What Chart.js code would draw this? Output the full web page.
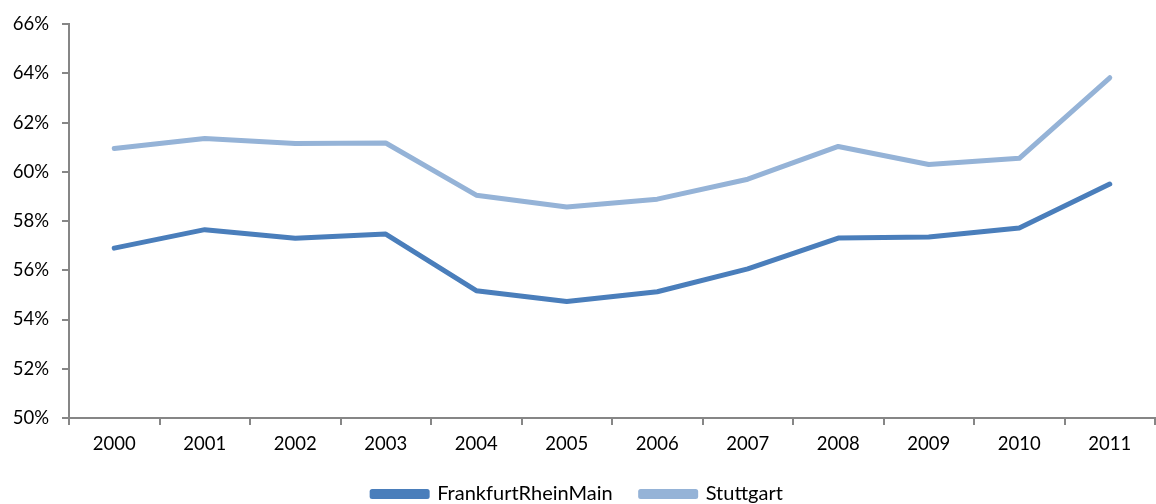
<!DOCTYPE html>
<html>
<head>
<meta charset="utf-8">
<script src="https://cdn.jsdelivr.net/npm/chart.js@4/dist/chart.umd.min.js"></script>
<style>
  html, body { margin: 0; padding: 0; background: #fff; }
  #wrap { width: 1156px; height: 504px; }
</style>
</head>
<body>
<div id="wrap"><canvas id="myChart" width="1156" height="504"></canvas></div>
<script>
var years = ["2000", "2001", "2002", "2003", "2004", "2005", "2006", "2007", "2008", "2009", "2010", "2011"];
var frankfurt = [56.9, 57.65, 57.3, 57.47, 55.17, 54.73, 55.13, 56.06, 57.31, 57.35, 57.72, 59.5];
var stuttgart = [60.95, 61.35, 61.15, 61.17, 59.05, 58.57, 58.89, 59.7, 61.03, 60.3, 60.55, 63.82];
var yMin = 50, yMax = 66, yStep = 2;

var axisColor = '#868686';
var fontFamily = 'Lato, "Open Sans", sans-serif';

function renderChart() {
    var ctx = document.getElementById("myChart").getContext('2d');
    return new Chart(ctx, {
        type: 'line',
        data: {
            labels: years,
            datasets: [{
                label: 'FrankfurtRheinMain',
                data: frankfurt,
                borderColor: '#4a7ebb',
                backgroundColor: '#4a7ebb',
                borderWidth: 5,
                pointRadius: 0,
                tension: 0,
                borderCapStyle: 'round',
                borderJoinStyle: 'round'
            }, {
                label: 'Stuttgart',
                data: stuttgart,
                borderColor: '#95b3d7',
                backgroundColor: '#95b3d7',
                borderWidth: 5,
                pointRadius: 0,
                tension: 0,
                borderCapStyle: 'round',
                borderJoinStyle: 'round'
            }]
        },
        options: {
            responsive: false,
            animation: false,
            layout: { padding: { top: 21, right: 1, left: 0, bottom: -10 } },
            plugins: {
                tooltip: { enabled: false },
                legend: {
                    position: 'bottom',
                    labels: {
                        color: '#000',
                        font: { family: fontFamily, size: 20 },
                        boxWidth: 55,
                        boxHeight: 5,
                        padding: 28
                    }
                }
            },
            scales: {
                x: {
                    offset: true,
                    afterFit: function (scale) { scale.height = 38; },
                    grid: {
                        offset: true,
                        drawOnChartArea: false,
                        drawTicks: true,
                        tickLength: 7,
                        color: axisColor,
                        lineWidth: 2
                    },
                    border: { display: true, color: axisColor, width: 2 },
                    ticks: {
                        color: '#000',
                        font: { family: fontFamily, size: 18.5 },
                        padding: 8,
                        maxRotation: 0
                    }
                },
                y: {
                    min: yMin,
                    max: yMax,
                    afterFit: function (scale) { scale.width = 69; },
                    grid: {
                        drawOnChartArea: false,
                        drawTicks: true,
                        tickLength: 7,
                        color: axisColor,
                        lineWidth: 2
                    },
                    border: { display: true, color: axisColor, width: 2 },
                    ticks: {
                        stepSize: yStep,
                        color: '#000',
                        font: { family: fontFamily, size: 18.5 },
                        padding: 13,
                        callback: function (v) { return v + '%'; }
                    }
                }
            }
        }
    });
}

renderChart();
</script>
</body>
</html>
